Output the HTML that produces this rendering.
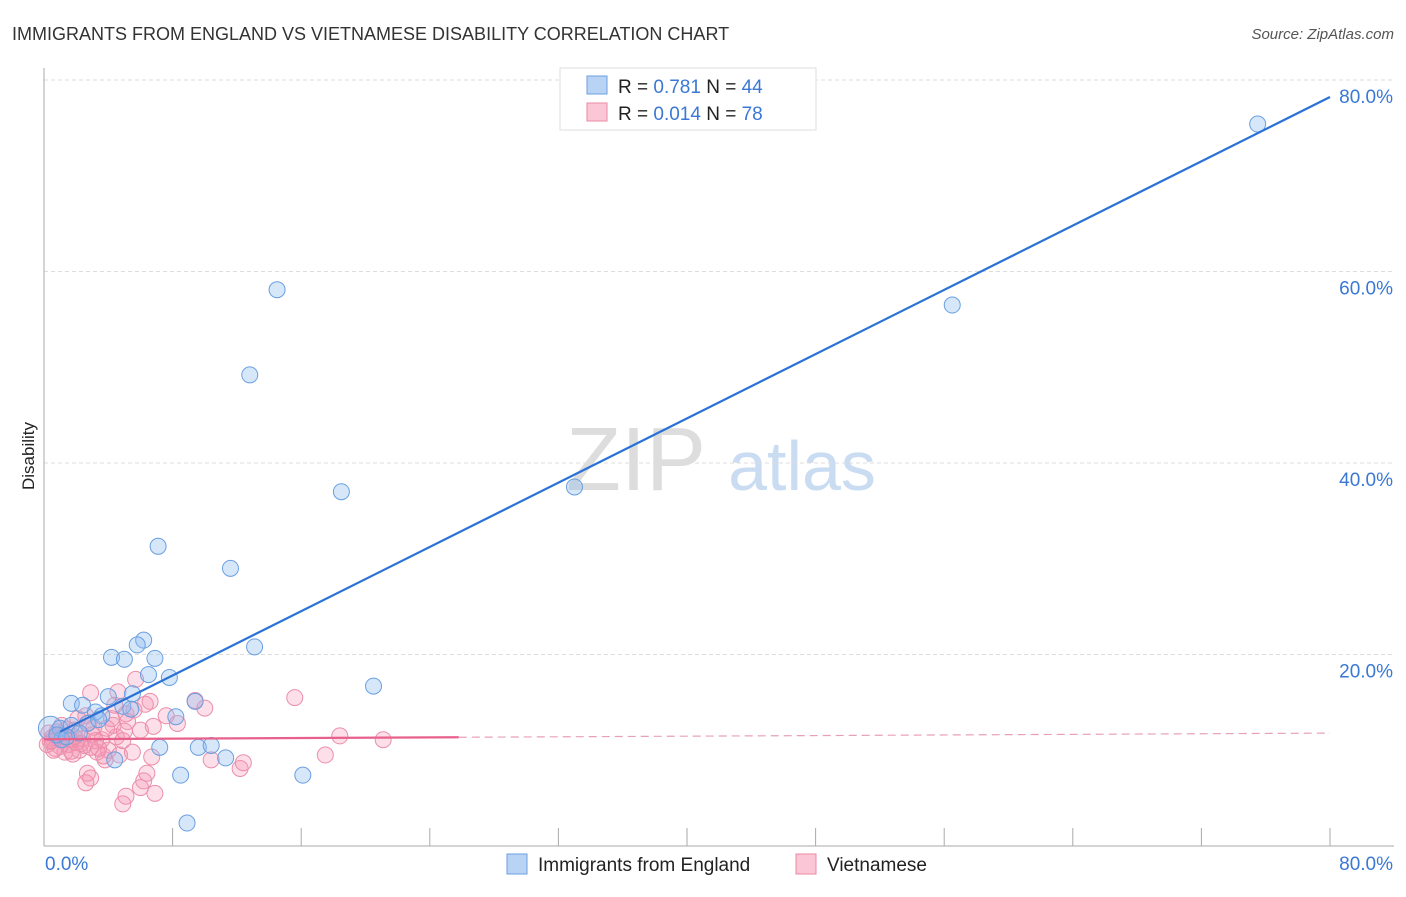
<!DOCTYPE html>
<html><head><meta charset="utf-8"><style>
body{margin:0;background:#fff;font-family:"Liberation Sans",sans-serif}
svg text{font-family:"Liberation Sans",sans-serif}
</style></head><body>
<svg id="c" width="1406" height="892" xmlns="http://www.w3.org/2000/svg">
<text x="12" y="40" font-size="18" fill="#333">IMMIGRANTS FROM ENGLAND VS VIETNAMESE DISABILITY CORRELATION CHART</text>
<text x="1394" y="39" font-size="15" fill="#555" font-style="italic" text-anchor="end">Source: ZipAtlas.com</text>
<text x="34" y="456" font-size="17" fill="#222" text-anchor="middle" transform="rotate(-90 34 456)">Disability</text>
<g><text x="636" y="490" font-size="90" font-family="Liberation Serif" fill="#ddd" text-anchor="middle">ZIP</text><text x="802" y="490" font-size="70" fill="#c9dcf2" text-anchor="middle">atlas</text></g>
<g id="grid"></g><g id="pts"></g><g id="lines"></g>
<g>
<rect x="560" y="68" width="256" height="62" fill="#fff" stroke="#ddd"/>
<rect x="587" y="76" width="20" height="18" fill="#b9d3f5" stroke="#6a9fe0"/>
<rect x="587" y="103" width="20" height="18" fill="#fbc6d5" stroke="#e88aa5"/>
<text x="618" y="93" font-size="19" fill="#222">R = <tspan fill="#3a78d4">0.781</tspan>   N = <tspan fill="#3a78d4">44</tspan></text>
<text x="618" y="120" font-size="19" fill="#222">R = <tspan fill="#3a78d4">0.014</tspan>   N = <tspan fill="#3a78d4">78</tspan></text>
</g>
<g>
<rect x="507" y="854" width="20" height="20" fill="#b9d3f5" stroke="#6a9fe0"/>
<text x="538" y="871" font-size="19" fill="#222">Immigrants from England</text>
<rect x="796" y="854" width="20" height="20" fill="#fbc6d5" stroke="#e88aa5"/>
<text x="827" y="871" font-size="19" fill="#222">Vietnamese</text>
</g>
</svg>
<script>
const yTicks=[20,40,60,80];
const yTickLabels=["20.0%","40.0%","60.0%","80.0%"];
const xTickVals=[0,8,16,24,32,40,48,56,64,72,80];
const blueX=[75.5,56.5,33.0,14.5,12.8,18.5,7.1,11.6,13.1,6.2,5.8,4.2,5.0,6.9,6.5,7.8,20.5,4.0,5.5,9.4,1.7,2.4,3.2,3.6,4.9,8.2,7.2,9.6,10.4,11.3,4.4,8.5,16.1,8.9,0.4,1.0,1.7,2.7,1.1,3.4,2.2,0.8,5.4,1.4];
const blueY=[75.4,56.5,37.5,58.1,49.2,37.0,31.3,29.0,20.8,21.5,21.0,19.7,19.5,19.6,17.9,17.6,16.7,15.6,15.9,15.1,14.9,14.7,14.0,13.6,14.6,13.5,10.3,10.3,10.5,9.2,9.0,7.4,7.4,2.4,12.3,12.3,12.6,12.8,11.1,13.2,11.8,11.6,14.3,11.4];
const pinkX=[15.6,18.4,21.1,17.5,10.0,8.3,9.4,5.7,6.3,5.1,2.9,4.6,6.7,6.4,6.2,6.0,6.9,5.1,4.9,2.7,2.9,2.6,12.2,12.4,10.4,3.6,4.0,3.3,4.5,4.3,2.2,1.3,0.7,1.6,0.9,1.9,1.1,0.4,2.5,3.0,2.1,6.0,4.7,3.8,5.2,2.8,1.5,0.5,3.4,7.6,5.6,4.2,2.4,1.0,0.3,1.8,3.1,4.9,6.6,2.0,1.2,0.6,3.7,5.0,2.6,1.4,0.2,4.4,3.9,1.7,2.3,0.8,5.5,6.8,3.2,2.9,1.9,0.5];
const pinkY=[15.5,11.5,11.1,9.5,14.4,12.8,15.2,17.4,14.8,13.8,16.0,16.1,9.3,7.6,6.8,6.1,5.5,5.2,4.4,7.6,7.1,6.6,8.1,8.7,9.0,11.1,10.0,9.8,11.4,12.6,10.0,9.8,10.2,11.1,11.6,12.1,12.6,10.9,10.5,11.6,13.3,12.1,9.5,9.0,13.0,12.9,10.6,11.3,10.2,13.6,14.2,13.3,11.2,10.4,11.8,9.6,12.4,11.0,15.1,10.8,11.5,10.0,9.4,12.0,13.6,12.2,10.6,14.7,12.3,9.9,10.7,11.9,9.8,12.5,11.0,10.3,11.4,11.0];
const blueFit=[11.1,0.839];
const pinkFit=[11.15,0.008];
const X=v=>44+v*16.075, Y=v=>846-v*9.575;
const NS="http://www.w3.org/2000/svg";
function mk(t,a,p){const e=document.createElementNS(NS,t);for(const k in a)e.setAttribute(k,a[k]);p.appendChild(e);return e;}
const grid=document.getElementById('grid'),pts=document.getElementById('pts'),lines=document.getElementById('lines');
yTicks.forEach((v,i)=>{
 const l=mk('line',{x1:44,x2:1394,y1:Y(v),y2:Y(v),stroke:'#ddd','stroke-dasharray':'4,3'},grid);
 
 
 const t=mk('text',{x:1393,y:Y(v)+23,'font-size':19,fill:'#3a78d4','text-anchor':'end'},grid);t.textContent=yTickLabels[i];
 
 
});
const ax=mk('line',{x1:44,x2:1394,y1:846,y2:846,stroke:'#aaa'},grid);


const ay=mk('line',{x1:44,x2:44,y1:68,y2:846,stroke:'#aaa'},grid);


xTickVals.forEach(v=>{const t=mk('line',{x1:X(v),x2:X(v),y1:828,y2:846,stroke:'#aaa'},grid);
 
 });
let t0=mk('text',{x:45,y:870,'font-size':19,fill:'#3a78d4'},grid);t0.textContent='0.0%';


let t1=mk('text',{x:1393,y:870,'font-size':19,fill:'#3a78d4','text-anchor':'end'},grid);t1.textContent='80.0%';


pinkX.forEach((x,i)=>{const c=mk('circle',{cx:X(x),cy:Y(pinkY[i]),r:8,fill:'rgba(245,150,180,0.3)',stroke:'#eb8fab','stroke-width':1},pts);
 
 });
blueX.forEach((x,i)=>{const c=mk('circle',{cx:X(x),cy:Y(blueY[i]),r:i==34?12:8,fill:'rgba(140,185,240,0.35)',stroke:'#6a9fe0','stroke-width':1},pts);
 
 });
const bl=mk('line',{x1:X(1),y1:Y(blueFit[0]+blueFit[1]*1),x2:X(80),y2:Y(blueFit[0]+blueFit[1]*80),stroke:'#2a72d6','stroke-width':2.2},lines);


const pl=mk('line',{x1:X(0),y1:Y(pinkFit[0]),x2:X(25.8),y2:Y(pinkFit[0]+pinkFit[1]*25.8),stroke:'#e8618c','stroke-width':2.2},lines);


const pd=mk('line',{x1:X(25.8),y1:Y(pinkFit[0]+pinkFit[1]*25.8),x2:X(80),y2:Y(pinkFit[0]+pinkFit[1]*80),stroke:'#e8a0b6','stroke-width':1.2,'stroke-dasharray':'8,5'},lines);


</script>
</body></html>
